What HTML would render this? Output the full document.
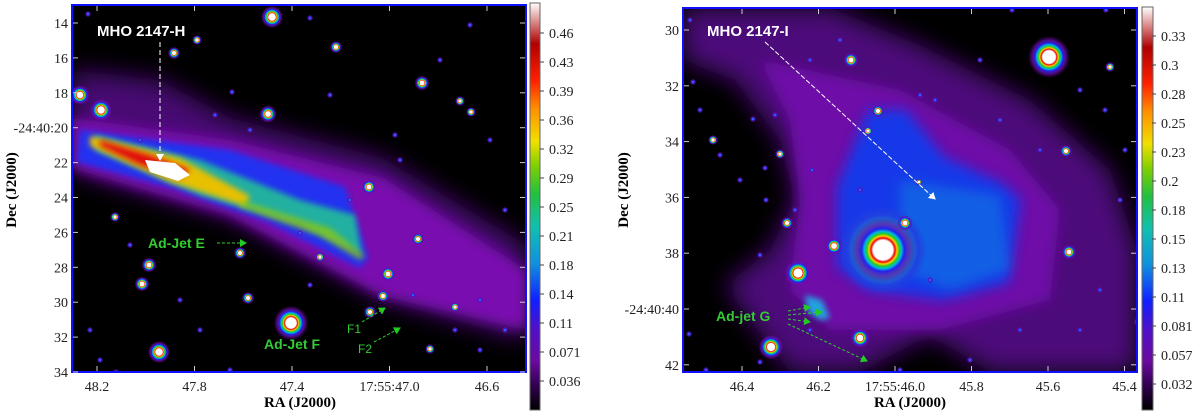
<!DOCTYPE html>
<html><head><meta charset="utf-8"><style>
html,body{margin:0;padding:0;background:#fff;}
svg{display:block;font-family:"Liberation Serif",serif;}
</style></head><body>
<svg id="fig" width="1200" height="415" viewBox="0 0 1200 415" xmlns="http://www.w3.org/2000/svg">
<defs>
<radialGradient id="star" cx="0.5" cy="0.5" r="0.5">
<stop offset="0" stop-color="#fff"/><stop offset="0.3" stop-color="#fff"/><stop offset="0.37" stop-color="#e00"/>
<stop offset="0.43" stop-color="#fc0"/><stop offset="0.5" stop-color="#2c2"/><stop offset="0.57" stop-color="#0bd"/>
<stop offset="0.66" stop-color="#22e"/><stop offset="0.8" stop-color="#7010b0" stop-opacity="0.7"/><stop offset="1" stop-color="#600090" stop-opacity="0"/>
</radialGradient>
<radialGradient id="dot" cx="0.5" cy="0.5" r="0.5">
<stop offset="0" stop-color="#3cf"/><stop offset="0.4" stop-color="#22e"/><stop offset="0.75" stop-color="#7010b0" stop-opacity="0.8"/><stop offset="1" stop-color="#600090" stop-opacity="0"/>
</radialGradient>
<radialGradient id="halo" cx="0.5" cy="0.5" r="0.5">
<stop offset="0" stop-color="#30c040"/><stop offset="0.5" stop-color="#10b0c0"/><stop offset="0.8" stop-color="#2040e0"/><stop offset="1" stop-color="#2040e0" stop-opacity="0"/>
</radialGradient>
<linearGradient id="cbL" x1="0" y1="1" x2="0" y2="0">
<stop offset="0" stop-color="#000"/><stop offset="0.06" stop-color="#300050"/><stop offset="0.12" stop-color="#6a0aa0"/>
<stop offset="0.2" stop-color="#5010c8"/><stop offset="0.27" stop-color="#1020ff"/><stop offset="0.36" stop-color="#1090e0"/>
<stop offset="0.45" stop-color="#10c0b0"/><stop offset="0.53" stop-color="#20c040"/><stop offset="0.6" stop-color="#80d000"/>
<stop offset="0.66" stop-color="#f0e000"/><stop offset="0.74" stop-color="#ff9000"/><stop offset="0.81" stop-color="#ff2000"/>
<stop offset="0.9" stop-color="#b00000"/><stop offset="1" stop-color="#fff"/>
</linearGradient>
<filter id="b6" x="-20%" y="-20%" width="140%" height="140%"><feGaussianBlur stdDeviation="6"/></filter>
<filter id="b3" x="-20%" y="-20%" width="140%" height="140%"><feGaussianBlur stdDeviation="3"/></filter>
<filter id="b12" x="-20%" y="-20%" width="140%" height="140%"><feGaussianBlur stdDeviation="12"/></filter>
<clipPath id="clipL"><rect x="72" y="5" width="454" height="367"/></clipPath>
<clipPath id="clipR"><rect x="683" y="8" width="454" height="364"/></clipPath>
<marker id="ahw" markerWidth="8" markerHeight="8" refX="6" refY="4" orient="auto"><path d="M0,0 L7,4 L0,8 z" fill="#fff"/></marker>
<marker id="ahg" markerWidth="8" markerHeight="8" refX="6" refY="4" orient="auto"><path d="M0,0 L7,4 L0,8 z" fill="#2c2"/></marker>
</defs>

<g clip-path="url(#clipL)">
<rect x="72" y="5" width="454" height="367" fill="#000"/>
<polygon points="72,70 160,80 230,118 383,158 526,245 526,340 383,300 230,218 72,172" fill="#5a0890" opacity="0.8" filter="url(#b12)"/>
<polygon points="72,118 230,140 383,178 526,270 526,330 383,296 230,215 72,168" fill="#7a10b0" filter="url(#b6)"/>
<polygon points="80,130 230,150 345,187 368,258 360,268 268,222 172,188 77,162" fill="#2030f0" filter="url(#b3)"/>
<polygon points="95,135 200,160 300,200 355,215 362,255 300,225 200,195 95,150" fill="#20b0a0" filter="url(#b3)"/>
<polygon points="90,136 180,158 250,196 245,206 170,182 90,146" fill="#e8c000" filter="url(#b3)"/>
<polygon points="100,140 150,155 190,170 180,178 140,165 100,146" fill="#e01010" filter="url(#b3)"/>
<polygon points="145,160 175,163 190,175 178,181 150,172" fill="#fff"/>
<polygon points="240,200 330,228 365,256 360,260 320,236 240,207" fill="#9c0" opacity="0.7" filter="url(#b3)"/>
<g id="starsL"></g>
</g>
<rect x="72" y="5" width="454" height="367" fill="none" stroke="#1010ff" stroke-width="2"/>

<g clip-path="url(#clipR)">
<rect x="683" y="8" width="454" height="364" fill="#000"/>
<polygon points="683,8 830,8 920,45 1030,100 1110,170 1137,250 1137,372 990,372 930,335 860,372 790,372 750,320 725,285 770,250 795,200 780,140 735,80 683,60" fill="#5a0890" opacity="0.85" filter="url(#b12)"/>
<polygon points="760,60 900,90 1010,150 1060,210 1050,300 940,330 830,330 790,290 800,200 790,120" fill="#6e0ca8" filter="url(#b6)"/>
<polygon points="868,110 906,110 944,157 1002,183 1021,200 1009,283 944,300 868,290 837,267 837,187" fill="#1838e8" filter="url(#b6)"/>
<polygon points="900,180 1000,195 1010,270 950,290 900,270" fill="#1090e0" opacity="0.45" filter="url(#b6)"/>
<circle cx="883" cy="250" r="44" fill="url(#halo)"/>
<polygon points="805,295 822,300 830,318 820,320 808,312" fill="#20a0e0" filter="url(#b3)"/>
<g id="starsR"></g>
</g>
<rect x="683" y="8" width="454" height="364" fill="none" stroke="#1010ff" stroke-width="2"/>

<text x="97" y="36" fill="#fff" font-family="Liberation Sans, sans-serif" font-weight="bold" font-size="15">MHO 2147-H</text>
<line x1="160" y1="42" x2="160" y2="160" stroke="#fff" stroke-dasharray="5,3" stroke-width="1" marker-end="url(#ahw)"/>
<text x="148" y="248" fill="#3c3" font-family="Liberation Sans, sans-serif" font-weight="bold" font-size="14">Ad-Jet E</text>
<line x1="217" y1="243" x2="246" y2="243" stroke="#3c3" stroke-dasharray="3,2" marker-end="url(#ahg)"/>
<text x="264" y="349" fill="#3c3" font-family="Liberation Sans, sans-serif" font-weight="bold" font-size="14">Ad-Jet F</text>
<text x="347" y="333" fill="#3c3" font-family="Liberation Sans, sans-serif" font-size="12">F1</text>
<line x1="362" y1="322" x2="385" y2="308" stroke="#3c3" stroke-dasharray="3,2" marker-end="url(#ahg)"/>
<text x="358" y="353" fill="#3c3" font-family="Liberation Sans, sans-serif" font-size="12">F2</text>
<line x1="374" y1="342" x2="400" y2="328" stroke="#3c3" stroke-dasharray="3,2" marker-end="url(#ahg)"/>

<text x="707" y="36" fill="#fff" font-family="Liberation Sans, sans-serif" font-weight="bold" font-size="15">MHO 2147-I</text>
<line x1="765" y1="42" x2="935" y2="199" stroke="#fff" stroke-dasharray="5,2" marker-end="url(#ahw)"/>
<text x="716" y="321" fill="#3c3" font-family="Liberation Sans, sans-serif" font-weight="bold" font-size="14">Ad-jet G</text>
<g stroke="#3c3" stroke-dasharray="3,2">
<line x1="788" y1="311" x2="810" y2="307" marker-end="url(#ahg)"/>
<line x1="788" y1="315" x2="822" y2="312" marker-end="url(#ahg)"/>
<line x1="788" y1="319" x2="810" y2="322" marker-end="url(#ahg)"/>
<line x1="788" y1="324" x2="867" y2="361" marker-end="url(#ahg)"/>
</g>

<rect x="530" y="3" width="10" height="407" fill="url(#cbL)" stroke="#666" stroke-width="1"/>
<rect x="1142" y="7" width="11" height="403" fill="url(#cbL)" stroke="#666" stroke-width="1"/>
<g id="axes" font-size="14" fill="#222"></g>
<text x="300" y="407" text-anchor="middle" font-weight="bold" font-size="15">RA (J2000)</text>
<text x="910" y="407" text-anchor="middle" font-weight="bold" font-size="15">RA (J2000)</text>
<text transform="translate(16,190) rotate(-90)" text-anchor="middle" font-weight="bold" font-size="15">Dec (J2000)</text>
<text transform="translate(628,190) rotate(-90)" text-anchor="middle" font-weight="bold" font-size="15">Dec (J2000)</text>
</svg>
<script>
var NS="http://www.w3.org/2000/svg";
var leftXTicks=["48.2","47.8","47.4","17:55:47.0","46.6"];
var leftXVals=[48.2,47.8,47.4,47.0,46.6];
var leftYTicks=["14","16","18","-24:40:20","22","24","26","28","30","32","34"];
var leftYVals=[14,16,18,20,22,24,26,28,30,32,34];
var rightXTicks=["46.4","46.2","17:55:46.0","45.8","45.6","45.4"];
var rightXVals=[46.4,46.2,46.0,45.8,45.6,45.4];
var rightYTicks=["30","32","34","36","38","-24:40:40","42"];
var rightYVals=[30,32,34,36,38,40,42];
var cbLeftLabels=["0.46","0.43","0.39","0.36","0.32","0.29","0.25","0.21","0.18","0.14","0.11","0.071","0.036"];
var cbRightLabels=["0.33","0.3","0.28","0.25","0.23","0.2","0.18","0.15","0.13","0.11","0.081","0.057","0.032"];
var starsLeft=[[272,17,9],[80,95,8],[101,110,9],[268,114,7],[369,187,6],[291,323,14],[159,352,9],[149,265,6],[142,284,6],[240,253,5],[388,274,6],[422,83,6],[418,239,5],[336,47,5],[174,53,5],[197,40,4],[383,296,5],[370,312,5],[248,298,5],[430,349,4],[460,101,4],[471,112,4],[455,307,4],[320,257,4],[115,217,4]];
var dotsLeft=[[300,233],[116,372],[413,295],[232,92],[310,18],[88,14],[140,140],[215,115],[250,130],[330,95],[400,160],[440,60],[470,25],[490,140],[505,210],[480,300],[505,330],[90,330],[100,360],[200,330],[230,370],[180,300],[130,245],[310,285],[350,200],[395,135],[480,350],[455,330]];
var starsRight=[[883,250,26],[1049,57,17],[798,273,11],[771,347,10],[860,338,8],[834,246,7],[851,60,6],[905,223,6],[878,111,5],[787,223,5],[1069,252,6],[1066,151,5],[713,140,4],[780,154,4],[1110,67,4],[1139,322,4],[868,131,4],[919,182,3]];
var dotsRight=[[1012,10],[1106,10],[765,168],[753,119],[689,334],[693,82],[700,110],[720,155],[740,180],[775,115],[810,60],[812,170],[795,210],[766,200],[760,255],[840,40],[920,95],[935,100],[980,60],[1000,120],[1040,150],[1080,90],[1105,110],[1125,150],[1120,200],[1100,290],[1080,330],[1020,330],[970,360],[900,370],[760,362],[706,370],[690,20],[810,330],[930,280],[860,190]];
function mk(tag,attrs,parent){var e=document.createElementNS(NS,tag);for(var k in attrs)e.setAttribute(k,attrs[k]);parent.appendChild(e);return e;}
function drawStars(list,dots,gid){
  var g=document.getElementById(gid);
  dots.forEach(function(s){
    var c=mk("circle",{cx:s[0],cy:s[1],r:3,fill:"url(#dot)"},g);
    
    
  });
  list.forEach(function(s){
    var c=mk("circle",{cx:s[0],cy:s[1],r:s[2]*1.25,fill:"url(#star)"},g);
    
    
  });
}
drawStars(starsLeft,dotsLeft,"starsL");drawStars(starsRight,dotsRight,"starsR");
var ax=document.getElementById("axes");
function lx(v){return 97+(48.2-v)/0.4*97.5;}
function ly(v){return 23+(v-14)*17.45;}
function rx(v){return 742+(46.4-v)/0.2*76.5;}
function ry(v){return 30+(v-30)*27.9;}
function ticksX(vals,labels,f,top,bot,name){
  vals.forEach(function(v,i){
    var x=f(v);
    var t=mk("text",{x:x,y:bot+19,"text-anchor":"middle","font-size":"14"},ax);t.textContent=labels[i];
    
    
    mk("line",{x1:x,y1:bot-1,x2:x,y2:bot-6,stroke:"#ccc"},ax);
    mk("line",{x1:x,y1:top+1,x2:x,y2:top+6,stroke:"#ccc"},ax);
  });
}
function ticksY(vals,labels,f,left,right,name){
  vals.forEach(function(v,i){
    var y=f(v);
    var t=mk("text",{x:left-4,y:y+5,"text-anchor":"end","font-size":"14"},ax);t.textContent=labels[i];
    
    
    mk("line",{x1:left+1,y1:y,x2:left+6,y2:y,stroke:"#ccc"},ax);
    mk("line",{x1:right-1,y1:y,x2:right-6,y2:y,stroke:"#ccc"},ax);
  });
}
ticksX(leftXVals,leftXTicks,lx,5,372,"left-x");
ticksY(leftYVals,leftYTicks,ly,72,526,"left-y");
ticksX(rightXVals,rightXTicks,rx,8,372,"right-x");
ticksY(rightYVals,rightYTicks,ry,683,1137,"right-y");
function cb(labels,x,y0,step,name){
  labels.forEach(function(l,i){
    var y=y0+i*step;
    mk("line",{x1:x-6,y1:y,x2:x-2,y2:y,stroke:"#444"},ax);
    var t=mk("text",{x:x+3,y:y+5,"font-size":"14"},ax);t.textContent=l;
    
    
  });
}
cb(cbLeftLabels,546,33,29,"left-colorbar");
cb(cbRightLabels,1158,36,29,"right-colorbar");
</script>
</body></html>
